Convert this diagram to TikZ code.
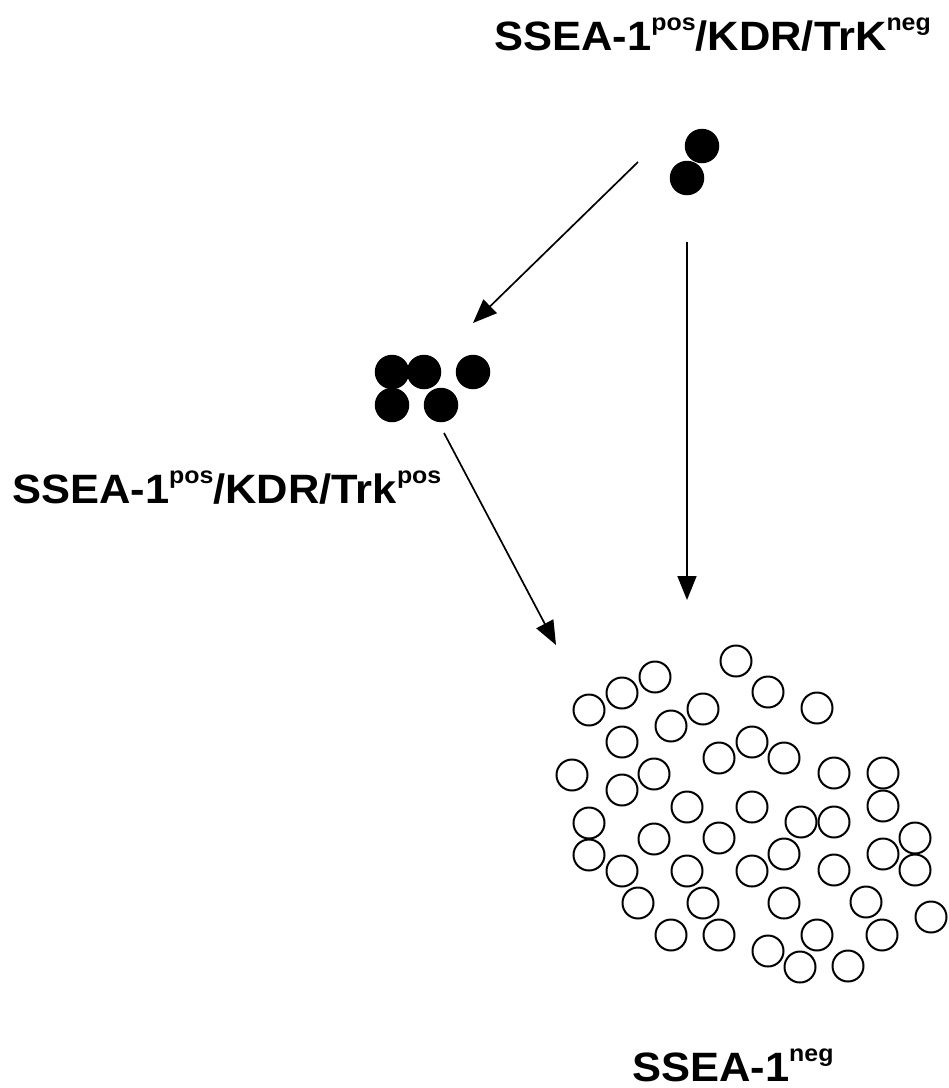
\documentclass[tikz,border=0pt]{standalone}
\usepackage{fontspec}
\setmainfont{Liberation Sans}
\usetikzlibrary{arrows.meta}
\newcommand\supidx[1]{\raisebox{19.5pt}{\fontsize{23.5}{24}\selectfont\bfseries #1}}
\newcommand\widelbl[1]{\scalebox{1.06}[1]{#1}}
\begin{document}
\begin{tikzpicture}[x=1pt,y=-1pt,
  cellfull/.style={circle, fill=black, inner sep=0pt, minimum size=34.5pt},
  cellopen/.style={circle, draw=black, line width=2pt, inner sep=0pt, minimum size=31pt},
  arr/.style={line width=1.7pt, -{Triangle[length=24pt,width=19pt]}},
  lbl/.style={inner sep=0pt, font=\fontsize{41}{48}\selectfont\bfseries}]
\useasboundingbox[fill=white] (0,0) rectangle (949,1088);

% labels
\node[lbl, anchor=base east] (ltop) at (931,50) {\widelbl{SSEA-1\supidx{pos}/KDR/TrK\supidx{neg}}};
\node[lbl, anchor=base west] (lmid) at (12,503) {\widelbl{SSEA-1\supidx{pos}/KDR/Trk\supidx{pos}}};
\node[lbl, anchor=base west] (lbot) at (632,1081) {\widelbl{SSEA-1\supidx{neg}}};

% filled cells
\node[cellfull] (t1) at (702,146) {};
\node[cellfull] (t2) at (687,178) {};
\node[cellfull] (m1) at (392,372) {};
\node[cellfull] (m2) at (424,372) {};
\node[cellfull] (m3) at (473,372) {};
\node[cellfull] (m4) at (392,405) {};
\node[cellfull] (m5) at (441,405) {};

% open cells
\foreach \x/\y [count=\i] in {
  736/661, 655/677, 622/693, 768/692, 589/710, 703/709, 817/708, 671/726,
  622/742, 752/742, 719/758, 784/758, 572/775, 654/774, 834/773, 883/773,
  622/790, 687/807, 752/807, 883/806, 589/823, 801/822, 834/822, 915/838,
  654/839, 719/838, 589/855, 784/854, 883/854, 622/871, 687/871, 752/871,
  834/870, 915/870, 638/903, 703/903, 784/903, 866/902, 931/917, 671/935,
  719/935, 817/935, 882/935, 768/951, 800/967, 848/966}
  \node[cellopen] (o\i) at (\x,\y) {};

% arrow end points
\coordinate (a1s) at (638,162);
\coordinate (a1e) at (473,323);
\coordinate (a2s) at (687,242);
\coordinate (a2e) at (687,600);
\coordinate (a3s) at (444,433);
\coordinate (a3e) at (556,645);

\draw[arr] (a1s) -- (a1e);
\draw[arr] (a2s) -- (a2e);
\draw[arr] (a3s) -- (a3e);
\end{tikzpicture}
\end{document}
